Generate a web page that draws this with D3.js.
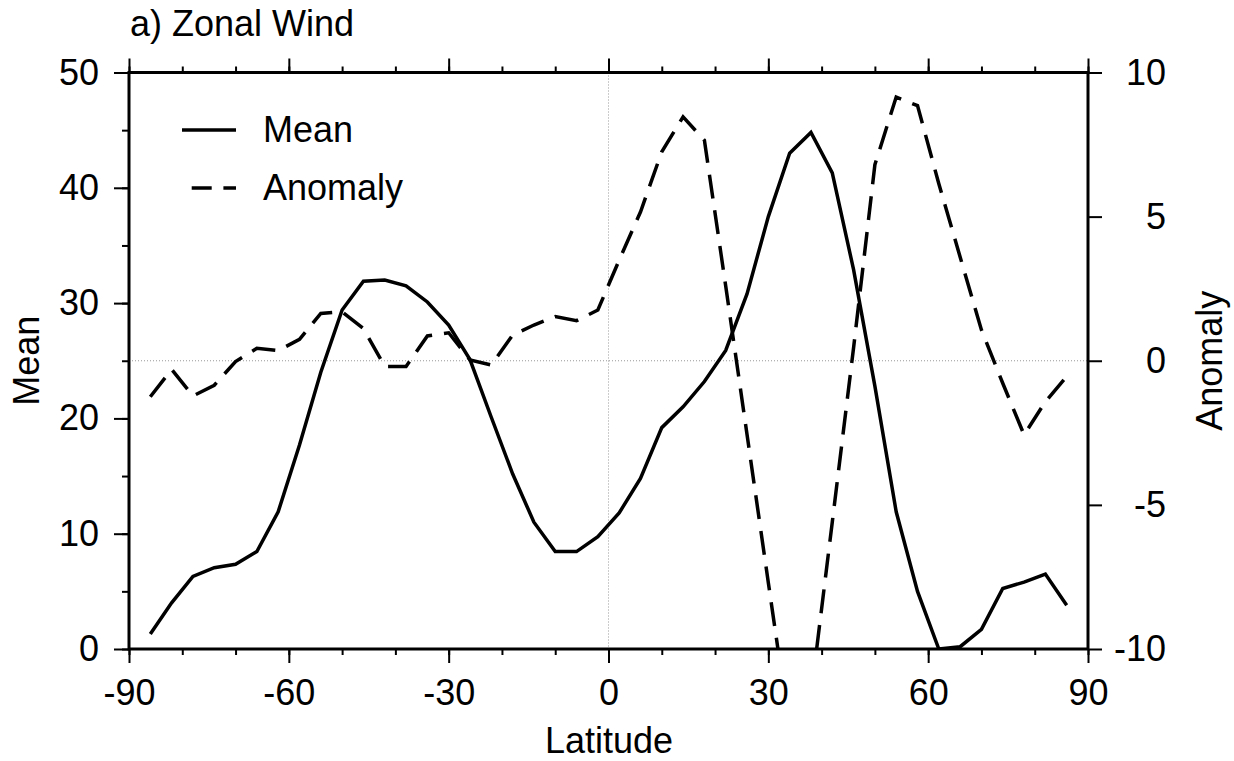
<!DOCTYPE html>
<html>
<head>
<meta charset="utf-8">
<script src="https://cdn.jsdelivr.net/npm/d3@7/dist/d3.min.js"></script>
<style>
  html, body { margin: 0; padding: 0; background: #fff; }
  svg { display: block; font-family: "Liberation Sans", Arial, sans-serif; }
  .tick text { font-size: 36px; fill: #000; }
  .tick line { stroke: #000; stroke-width: 2; }
  .domain { display: none; }
</style>
</head>
<body>
<svg id="chart" width="1234" height="761"></svg>
<script>
// Zonal wind profile, sampled every 4 degrees latitude
const latitudes = [-86, -82, -78, -74, -70, -66, -62, -58, -54, -50, -46, -42, -38, -34,
  -30, -26, -22, -18, -14, -10, -6, -2, 2, 6, 10, 14, 18, 22, 26, 30, 34, 38, 42, 46,
  50, 54, 58, 62, 66, 70, 74, 78, 82, 86];
const meanWind = [1.3, 4.0, 6.3, 7.05, 7.35, 8.45, 11.9, 17.7, 24.0, 29.4, 31.9, 32.0, 31.5, 30.1,
  28.1, 25.1, 20.1, 15.2, 11.0, 8.45, 8.45, 9.75, 11.8, 14.8, 19.2, 21.0, 23.2, 25.9, 30.8, 37.5, 43.0, 44.8, 41.3, 32.9,
  22.8, 11.9, 5.0, 0.0, 0.2, 1.7, 5.25, 5.8, 6.5, 3.8];
const anomaly = [-1.25, -0.3, -1.22, -0.85, -0.03, 0.43, 0.35, 0.74, 1.64, 1.7, 1.12, -0.2, -0.2, 0.86,
  0.97, 0.03, -0.15, 0.89, 1.24, 1.53, 1.39, 1.76, 3.49, 5.16, 7.25, 8.46, 7.65, 2.59, -2.56, -7.7, -12.8, -11.6, -5.6, 0.45,
  6.8, 9.15, 8.85, 6.14, 3.6, 1.07, -0.78, -2.57, -1.42, -0.55];

const xMajor = [-90, -60, -30, 0, 30, 60, 90];
const xMinor = d3.range(-90, 91, 10);
const meanMajor = [0, 10, 20, 30, 40, 50];
const meanMinor = d3.range(0, 51, 5);
const anomTicks = [-10, -5, 0, 5, 10];

const svg = d3.select('#chart');
const L = 129, R = 1088, T = 72.5, B = 649;
const fmt = d => String(d);   // plain hyphen, not the unicode minus

const x = d3.scaleLinear().domain([-90, 90]).range([L, R]);
const yMean = d3.scaleLinear().domain([0, 50]).range([B, T]);
const yAnom = d3.scaleLinear().domain([-10, 10]).range([B, T]);

svg.append('rect').attr('width', 1234).attr('height', 761).attr('fill', '#fff');

svg.append('defs').append('clipPath').attr('id', 'plot-clip')
  .append('rect').attr('x', L).attr('y', T).attr('width', R - L).attr('height', B - T);

// dotted zero lines
svg.append('line')
  .attr('x1', x(0)).attr('x2', x(0)).attr('y1', T).attr('y2', B)
  .attr('stroke', '#999').attr('stroke-width', 1).attr('stroke-dasharray', '1,2');
svg.append('line')
  .attr('x1', L).attr('x2', R).attr('y1', yAnom(0)).attr('y2', yAnom(0))
  .attr('stroke', '#999').attr('stroke-width', 1).attr('stroke-dasharray', '1,2');

// axes: minor first, then major with labels
function noLabels(g) { g.selectAll('text').remove(); }

svg.append('g').attr('transform', `translate(0,${B})`)
  .call(d3.axisBottom(x).tickValues(xMinor).tickSize(6)).call(noLabels);
svg.append('g').attr('transform', `translate(0,${B})`)
  .call(d3.axisBottom(x).tickValues(xMajor).tickFormat(fmt).tickSize(14).tickPadding(16));

svg.append('g').attr('transform', `translate(0,${T})`)
  .call(d3.axisTop(x).tickValues(xMinor).tickSize(6)).call(noLabels);
svg.append('g').attr('transform', `translate(0,${T})`)
  .call(d3.axisTop(x).tickValues(xMajor).tickSize(14)).call(noLabels);

svg.append('g').attr('transform', `translate(${L},0)`)
  .call(d3.axisLeft(yMean).tickValues(meanMinor).tickSize(7)).call(noLabels);
svg.append('g').attr('transform', `translate(${L},0)`)
  .call(d3.axisLeft(yMean).tickValues(meanMajor).tickFormat(fmt).tickSize(15).tickPadding(15));

const rightAxis = svg.append('g').attr('transform', `translate(${R},0)`)
  .call(d3.axisRight(yAnom).tickValues(anomTicks).tickFormat(fmt).tickSize(14).tickPadding(14));
rightAxis.selectAll('text').attr('text-anchor', 'end').attr('x', 78);

// frame
svg.append('rect')
  .attr('x', L).attr('y', T).attr('width', R - L).attr('height', B - T)
  .attr('fill', 'none').attr('stroke', '#000').attr('stroke-width', 3);

// series
const plot = svg.append('g').attr('clip-path', 'url(#plot-clip)');
const lineMean = d3.line().x((d, i) => x(latitudes[i])).y(d => yMean(d));
const lineAnom = d3.line().x((d, i) => x(latitudes[i])).y(d => yAnom(d));

plot.append('path').datum(meanWind)
  .attr('d', lineMean).attr('fill', 'none')
  .attr('stroke', '#000').attr('stroke-width', 3.5);
plot.append('path').datum(anomaly)
  .attr('d', lineAnom).attr('fill', 'none')
  .attr('stroke', '#000').attr('stroke-width', 3.5)
  .attr('stroke-dasharray', '24,12');

// legend
const legend = svg.append('g');
legend.append('line').attr('x1', 182).attr('x2', 236).attr('y1', 130).attr('y2', 130)
  .attr('stroke', '#000').attr('stroke-width', 3.5);
legend.append('text').attr('x', 263).attr('y', 142).attr('font-size', 36).text('Mean');
legend.append('line').attr('x1', 191.7).attr('x2', 236).attr('y1', 188).attr('y2', 188)
  .attr('stroke', '#000').attr('stroke-width', 3.5).attr('stroke-dasharray', '20,11.7');
legend.append('text').attr('x', 263).attr('y', 200).attr('font-size', 36).text('Anomaly');

// titles
svg.append('text').attr('x', 130).attr('y', 36).attr('font-size', 36).text('a) Zonal Wind');
svg.append('text').attr('x', 609).attr('y', 753).attr('font-size', 36)
  .attr('text-anchor', 'middle').text('Latitude');
svg.append('text').attr('transform', `translate(39,${(T + B) / 2}) rotate(-90)`)
  .attr('font-size', 36).attr('text-anchor', 'middle').text('Mean');
svg.append('text').attr('transform', `translate(1222,${(T + B) / 2}) rotate(-90)`)
  .attr('font-size', 36).attr('text-anchor', 'middle').text('Anomaly');
</script>
</body>
</html>
